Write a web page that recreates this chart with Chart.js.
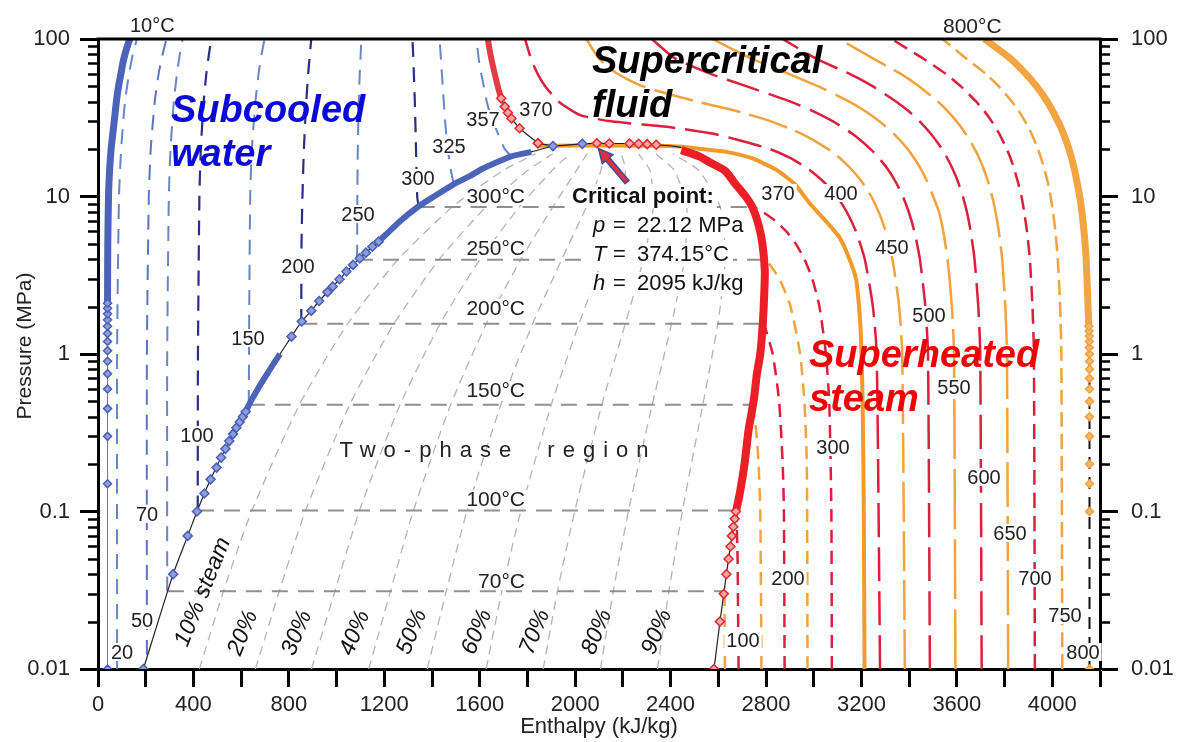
<!DOCTYPE html>
<html>
<head>
<meta charset="utf-8">
<script src="https://cdn.jsdelivr.net/npm/chart.js@4.4.1/dist/chart.umd.min.js"></script>
<style>
  html, body { margin: 0; padding: 0; background: #fff; }
  #wrap { width: 1177px; height: 742px; }
</style>
</head>
<body>
<div id="wrap"><canvas id="phChart" width="1177" height="742"></canvas></div>
<script>
// ---- axes ----
const pressureTicks = [0.01, 0.1, 1, 10, 100];
const pressureLabels = ['0.01', '0.1', '1', '10', '100'];
const enthalpyLabels = [0, 400, 800, 1200, 1600, 2000, 2400, 2800, 3200, 3600, 4000];

// ---- saturation curves [h kJ/kg, p MPa] ----
const satLiqCurve = [[190,0.01],[315,0.04],[376,0.07],[415,0.1],[472,0.16],[534,0.25],[580,0.34],[619,0.43],[640,0.5],[670,0.6],[697,0.7],[721,0.8],[743,0.9],[763,1.0],[811,1.29],[854,1.61],[894,1.88],[927,2.17],[962,2.47],[1012,2.98],[1069,3.68],[1123,4.4],[1176,5.17],[1267,7],[1340,8.58],[1408,10],[1492,12],[1560,13.5],[1611,15],[1672,16.5],[1732,18],[1816,19.2],[1907,20.9]];
const satLiqBandA = [[619,0.43],[640,0.5],[670,0.6],[697,0.7],[721,0.8],[743,0.9],[763,1.0]];
const satLiqBandB = [[1176,5.17],[1267,7],[1340,8.58],[1408,10],[1492,12],[1560,13.5],[1611,15],[1672,16.5],[1732,18],[1816,19.2]];
const satLiqMarkers = [[190,0.01],[315,0.04],[376,0.07],[415,0.1],[446,0.13],[472,0.16],[497,0.19],[516,0.22],[534,0.25],[550,0.28],[566,0.31],[580,0.34],[594,0.37],[607,0.4],[619,0.43],[811,1.29],[854,1.61],[894,1.88],[927,2.17],[962,2.47],[984,2.68],[1012,2.98],[1041,3.34],[1069,3.68],[1097,4.05],[1123,4.4],[1150,4.8],[1176,5.17]];

const satVapMarkers = [[2582,0.01],[2607,0.02],[2623,0.03],[2634,0.04],[2643,0.05],[2651,0.06],[2657,0.07],[2663,0.08],[2669,0.09],[2674,0.1]];
const satVapBand = [[2674,0.1],[2690,0.13],[2710,0.2],[2727,0.33],[2748,0.5],[2762,0.75],[2776,1.0],[2787,1.6],[2793,2.5],[2795,3.4],[2785,5],[2770,6.5],[2744,8.5],[2715,10],[2670,12.1],[2630,14.5],[2570,16.3],[2520,18],[2445,19.7]];

const critFlat = [[1844,21.8],[1907,20.9],[2030,21.6],[2091,21.8],[2143,21.7],[2228,21.7],[2266,21.6],[2302,21.5],[2340,21.3],[2400,21.0],[2445,20.5]];
const critBlueMarkers = [[1907,20.9],[2030,21.6]];
const critRedMarkers = [[1844,21.8],[2091,21.8],[2143,21.7],[2228,21.7],[2266,21.6],[2302,21.5],[2340,21.3]];

// ---- 10 °C isotherm ----
const iso10Markers = [[40,0.01],[40,0.15],[40,0.3],[40,0.45],[40,0.6],[40,0.75],[40,0.9],[40,1.05],[40,1.2],[40,1.35],[40,1.5],[40,1.65],[40,1.8],[40,1.95],[40,2.1]];
const iso10Band = [[40,2.1],[41,5],[44,10],[49,15],[55,20],[62,25],[68,30],[77,40],[86,50],[96,60],[104,70],[113,80],[123,90],[133,100]];

// ---- compressed liquid isotherms ----
const iso20 = [[80,0.01],[80,1],[88,10],[97,20],[113,40],[130,60],[146,80],[163,100]];
const iso50 = [[205,0.0123],[205,1],[213,10],[221,20],[238,40],[254,60],[271,80],[287,100]];
const iso70 = [[290,0.0312],[290,1],[297,10],[304,20],[318,40],[331,60],[343,80],[355,100]];
const iso100 = [[418,0.1014],[419,1],[425,10],[431,20],[443,40],[454,60],[465,80],[475,100]];
const iso150 = [[632,0.476],[634,2],[638,10],[645,20],[660,40],[673,60],[686,80],[698,100]];
const iso200 = [[852,1.554],[853,5],[857,10],[863,20],[873,40],[881,60],[888,80],[894,100]];
const iso250 = [[1086,3.97],[1087,10],[1089,20],[1093,40],[1097,60],[1101,80],[1104,100]];
const iso300 = [[1344,8.58],[1338,10],[1333,20],[1328,40],[1324,60],[1321,80],[1318,100]];
const iso325 = [[1491,12.05],[1478,15],[1466,20],[1455,30],[1447,45],[1440,65],[1432,100]];
const iso357 = [[1732,18.0],[1705,20],[1670,26.5],[1645,33],[1628,41],[1612,55],[1600,67],[1586,100]];
const iso370LiqBand = [[1634,100],[1645,80],[1656,66.7],[1676,49.8],[1690,42]];
const iso370LiqMarkers = [[1690,42],[1705,37.2],[1718,34],[1733,31.3],[1767,27.1],[1844,21.8]];

// ---- vapour / supercritical isotherms ----
const iso70v = [[2628,0.01],[2626,0.0312]];
const iso100v = [[2685,0.01],[2681,0.05],[2676,0.1014]];
const iso150v = [[2781,0.01],[2776,0.1],[2769,0.2],[2761,0.3],[2752,0.4],[2746,0.476]];
const iso200v = [[2878,0.01],[2875,0.1],[2870,0.2],[2855,0.5],[2828,1],[2792,1.554]];
const iso250v = [[2974,0.01],[2971,0.2],[2961,0.5],[2943,1],[2903,2],[2856,3],[2801,3.97]];
const iso300v = [[3076,0.01],[3074,0.1],[3065,0.5],[3051,1],[3024,2],[2994,3],[2961,4],[2925,5],[2885,6],[2839,7],[2786,8],[2749,8.58]];
const iso370v = [[1844,21.03],[2333,21.03],[2450,20.7],[2530,20],[2634,19.2],[2740,17.5],[2843,14.8],[2920,12],[2983,9.06],[3050,7],[3108,5.5],[3150,4],[3178,2.97],[3190,2],[3198,1.29],[3205,0.5],[3210,0.1],[3213,0.01]];
const iso400 = [[3278,0.01],[3264,1],[3248,2],[3214,4],[3177,6],[3138,8],[3097,10],[3039,12.5],[2976,15],[2903,17.5],[2818,20],[2700,22.5],[2580,25],[2400,27.5],[2151,30],[2030,32.5],[1988,35],[1931,40],[1875,50],[1843,60],[1815,75],[1790,100]];
const iso450 = [[3382,0.01],[3371,1],[3358,2],[3330,4],[3302,6],[3272,8],[3241,10],[3200,12.5],[3156,15],[3110,17.5],[3060,20],[2950,25],[2821,30],[2672,35],[2513,40],[2284,50],[2179,60],[2100,75],[2047,100]];
const iso500 = [[3487,0.01],[3479,1],[3468,2],[3445,4],[3422,6],[3398,8],[3374,10],[3342,12.5],[3309,15],[3274,17.5],[3238,20],[3162,25],[3081,30],[2994,35],[2903,40],[2720,50],[2568,60],[2420,75],[2321,100]];
const iso550 = [[3594,0.01],[3588,1],[3579,2],[3561,4],[3543,6],[3525,8],[3501,10],[3475,12.5],[3449,15],[3421,17.5],[3394,20],[3336,25],[3275,30],[3213,35],[3149,40],[3020,50],[2896,60],[2740,75],[2575,100]];
const iso600 = [[3704,0.01],[3698,1],[3690,2],[3674,4],[3658,6],[3642,8],[3625,10],[3604,12.5],[3582,15],[3560,17.5],[3538,20],[3491,25],[3444,30],[3396,35],[3346,40],[3248,50],[3151,60],[3010,75],[2870,100]];
const iso650 = [[3815,0.01],[3810,1],[3803,2],[3790,4],[3776,6],[3762,8],[3748,10],[3730,12.5],[3712,15],[3694,17.5],[3675,20],[3637,25],[3599,30],[3560,35],[3521,40],[3442,50],[3365,60],[3250,75],[3108,100]];
const iso700 = [[3927,0.01],[3923,1],[3917,2],[3906,4],[3894,6],[3882,8],[3871,10],[3855,12.5],[3840,15],[3825,17.5],[3809,20],[3778,25],[3746,30],[3714,35],[3681,40],[3617,50],[3554,60],[3460,75],[3326,100]];
const iso750 = [[4042,0.01],[4038,1],[4033,2],[4023,4],[4013,6],[4003,8],[3993,10],[3980,12.5],[3966,15],[3953,17.5],[3940,20],[3913,25],[3886,30],[3859,35],[3831,40],[3776,50],[3722,60],[3640,75],[3540,100]];
const iso800Dash = [[4156,0.01],[4156,1.5]];
const iso800Markers = [[4156,0.01],[4156,0.1],[4156,0.15],[4156,0.2],[4156,0.3],[4156,0.4],[4156,0.5],[4156,0.6],[4156,0.7],[4156,0.8],[4156,0.9],[4156,1.0],[4155,1.1],[4155,1.2],[4155,1.3],[4154,1.4],[4153,1.5]];
const iso800Band = [[4153,1.5],[4150,2],[4142,4],[4133,6],[4124,8],[4115,10],[4092,15],[4070,20],[4047,25],[4024,30],[3979,40],[3934,50],[3889,60],[3825,75],[3716,100]];

// ---- two-phase region ----
const twoPhaseP = [8.58, 3.97, 1.554, 0.476, 0.1014, 0.0312];
const twoPhaseHf = [1344, 1086, 852, 632, 419, 293];
const twoPhaseHg = [2749, 2801, 2792, 2746, 2676, 2626];
const qualityP = [0.01, 0.0312, 0.1014, 0.476, 1.554, 3.97, 8.58, 14.6, 18.66];
const qualityH = [
  [425, 526, 645, 844, 1046, 1257, 1485, 1697, 1834],
  [660, 760, 870, 1055, 1240, 1429, 1626, 1800, 1906],
  [895, 993, 1096, 1266, 1434, 1600, 1766, 1903, 1978],
  [1135, 1226, 1322, 1478, 1628, 1772, 1906, 2005, 2050],
  [1380, 1460, 1547, 1689, 1822, 1943, 2047, 2108, 2122],
  [1627, 1693, 1773, 1900, 2016, 2115, 2187, 2211, 2194],
  [1866, 1926, 1999, 2112, 2210, 2286, 2328, 2314, 2266],
  [2106, 2160, 2224, 2323, 2404, 2458, 2468, 2416, 2338],
  [2345, 2393, 2450, 2535, 2598, 2629, 2608, 2519, 2410]
];

// ---- colours ----
const NAVY = '#2b2e85', LBLUE = '#6886c6', BLUE = '#4b63b8';
const RED = '#dc1f3c', ORANGE = '#f2a23f', SATRED = '#ec1e26';

const pts = arr => arr.map(([x, y]) => ({ x, y }));
const datasets = [];
function addLine(data, color, width, dash, tension) {
  datasets.push({ data: pts(data), showLine: true, borderColor: color, borderWidth: width,
    borderDash: dash || [], pointRadius: 0, tension: tension || 0 });
}
function addMarkers(data, edge, fillc, r) {
  datasets.push({ data: pts(data), showLine: false, pointStyle: 'rectRot', pointRadius: r || 4.5,
    pointBorderWidth: 1.5, pointBorderColor: edge, pointBackgroundColor: fillc });
}

// two-phase grid
qualityH.forEach(row => addLine(row.map((h, i) => [h, qualityP[i]]), '#b4b4b4', 1.3, [9, 6], 0.2));
twoPhaseP.forEach((p, i) => addLine([[twoPhaseHf[i], p], [twoPhaseHg[i], p]], '#8f8f8f', 2, [16, 10]));

// liquid isotherms
const liqDash = [15, 10];
addLine(iso20, LBLUE, 2, liqDash, 0.2);
addLine(iso50, '#5a76bf', 2, liqDash, 0.2);
addLine(iso70, LBLUE, 2, liqDash, 0.2);
addLine(iso100, NAVY, 2.2, liqDash, 0.2);
addLine(iso150, LBLUE, 2, liqDash, 0.2);
addLine(iso200, NAVY, 2.2, liqDash, 0.2);
addLine(iso250, LBLUE, 2, liqDash, 0.2);
addLine(iso300, NAVY, 2.2, liqDash, 0.2);
addLine(iso325, LBLUE, 2, liqDash, 0.2);
addLine(iso357, LBLUE, 2, liqDash, 0.2);

// vapour isotherms
const shortDash = [13, 8];
addLine(iso70v, ORANGE, 2.5, shortDash);
addLine(iso100v, RED, 2.5, shortDash);
addLine(iso150v, ORANGE, 2.5, shortDash, 0.2);
addLine(iso200v, RED, 2.5, shortDash, 0.2);
addLine(iso250v, ORANGE, 2.5, shortDash, 0.2);
addLine(iso300v, RED, 2.5, shortDash, 0.2);
addLine(iso400, RED, 2.5, [34, 10], 0.2);
addLine(iso450, ORANGE, 2.5, [40, 9], 0.2);
addLine(iso500, RED, 2.5, [34, 10], 0.2);
addLine(iso550, ORANGE, 2.5, [60, 10], 0.2);
addLine(iso600, RED, 2.5, [34, 10], 0.2);
addLine(iso650, ORANGE, 2.5, [45, 9], 0.2);
addLine(iso700, RED, 2.5, [15, 8], 0.2);
addLine(iso750, ORANGE, 2.5, [15, 7], 0.2);
addLine(iso370v, '#f39a2e', 4, [], 0.2);
addLine(iso800Dash, '#111', 2, [12, 8]);
addLine(iso800Band, '#f3a443', 7, [], 0.2);
addMarkers(iso800Markers, '#f0a040', '#f6b96c', 4);

// 10 °C isotherm
addLine([[40, 0.01], [40, 2.1]], '#777', 1);
addLine(iso10Band, BLUE, 7, [], 0.2);
addMarkers(iso10Markers, '#4a5fb4', '#8c9edb', 4);

// saturated liquid / vapour
addLine(satLiqCurve, '#222', 1.2, [], 0.2);
addLine(satLiqBandA, BLUE, 6, [], 0.2);
addLine(satLiqBandB, BLUE, 6, [], 0.2);
addMarkers(satLiqMarkers, '#4a5fb4', '#8c9edb');
addLine(satVapMarkers, '#222', 1.2);
addLine(satVapBand, SATRED, 8, [], 0.2);
addMarkers(satVapMarkers, '#e3262e', '#f7a5a5');

// near critical
addLine(iso370LiqBand.concat(iso370LiqMarkers.slice(1)), '#222', 1.2, [], 0.2);
addLine(iso370LiqBand, '#e23c44', 6, [], 0.2);
addMarkers(iso370LiqMarkers, '#e3262e', '#f7a5a5');
addLine(critFlat, '#222', 1.2);
addMarkers(critBlueMarkers, '#4a5fb4', '#8c9edb');
addMarkers(critRedMarkers, '#e3262e', '#f7a5a5');

datasets.forEach((d, i) => { d.order = datasets.length - i; });

// ---- annotations (pixel positions) ----
const lineLabels = [
  ['20', 122, 652], ['50', 142, 620], ['70', 147, 514], ['100', 197, 435], ['150', 248, 338],
  ['200', 298, 266], ['250', 358, 214], ['300', 418, 178], ['325', 449, 146], ['357', 483, 119],
  ['370', 536, 109], ['100', 743, 640], ['200', 788, 578], ['300', 833, 447], ['370', 778, 193],
  ['400', 841, 193], ['450', 892, 247], ['500', 929, 315], ['550', 954, 387], ['600', 984, 477],
  ['650', 1010, 533], ['700', 1035, 578], ['750', 1065, 615], ['800', 1083, 652]
];
const tempLabels = [['300°C', 203], ['250°C', 255], ['200°C', 315], ['150°C', 397], ['100°C', 506], ['70°C', 588]];
const qualityLabels = [['10% steam', 203, 592], ['20%', 243, 633], ['30%', 297, 633], ['40%', 355, 633],
  ['50%', 412, 632], ['60%', 477, 632], ['70%', 535, 632], ['80%', 597, 632], ['90%', 657, 632]];

const FONT = '"Liberation Sans", Arial, sans-serif';

const annot = {
  id: 'annot',
  afterDraw(chart) {
    const { ctx, chartArea: a } = chart;
    const ys = chart.scales.y;
    ctx.save();
    // top frame
    ctx.strokeStyle = '#000';
    ctx.lineWidth = 3;
    ctx.beginPath();
    ctx.moveTo(a.left - 1.5, a.top);
    ctx.lineTo(a.right + 1.5, a.top);
    ctx.stroke();
    // minor log ticks
    ctx.lineWidth = 2.5;
    for (const d of [0.01, 0.1, 1, 10]) {
      for (let k = 2; k <= 9; k++) {
        const py = Math.round(ys.getPixelForValue(d * k)) + 0.5;
        ctx.beginPath();
        ctx.moveTo(a.left, py); ctx.lineTo(a.left - 10, py);
        ctx.moveTo(a.right, py); ctx.lineTo(a.right + 10, py);
        ctx.stroke();
      }
    }

    // y axis title
    ctx.save();
    ctx.translate(25, 346);
    ctx.rotate(-Math.PI / 2);
    ctx.font = '21px ' + FONT;
    ctx.fillStyle = '#222';
    ctx.textAlign = 'center';
    ctx.textBaseline = 'middle';
    ctx.fillText('Pressure (MPa)', 0, 0);
    ctx.restore();

    // two-phase temperature labels
    ctx.font = '21px ' + FONT;
    ctx.textAlign = 'right';
    ctx.textBaseline = 'alphabetic';
    tempLabels.forEach(([t, by]) => {
      const w = ctx.measureText(t).width;
      ctx.fillStyle = '#fff';
      ctx.fillRect(525 - w - 2, by - 16, w + 4, 18);
      ctx.fillStyle = '#222';
      ctx.fillText(t, 525, by);
    });

    // isotherm number labels
    ctx.font = '20px ' + FONT;
    ctx.textAlign = 'center';
    ctx.textBaseline = 'middle';
    lineLabels.forEach(([t, x, y]) => {
      const w = ctx.measureText(t).width;
      ctx.fillStyle = '#fff';
      ctx.fillRect(x - w / 2 - 2, y - 9, w + 4, 18);
      ctx.fillStyle = '#222';
      ctx.fillText(t, x, y + 1);
    });

    // quality labels
    ctx.font = 'italic 23px ' + FONT;
    ctx.fillStyle = '#111';
    qualityLabels.forEach(([t, x, y]) => {
      ctx.save();
      ctx.translate(x, y);
      ctx.rotate(-68 * Math.PI / 180);
      ctx.fillText(t, 0, 0);
      ctx.restore();
    });

    // two-phase region
    ctx.font = '22px ' + FONT;
    ctx.fillStyle = '#222';
    ctx.textBaseline = 'alphabetic';
    if ('letterSpacing' in ctx) ctx.letterSpacing = '8px';
    ctx.fillText('Two-phase  region', 498, 457);
    if ('letterSpacing' in ctx) ctx.letterSpacing = '0px';

    // critical point block
    ctx.textAlign = 'left';
    ctx.font = 'bold 22px ' + FONT;
    let w = ctx.measureText('Critical point:').width;
    ctx.fillStyle = '#fff';
    ctx.fillRect(569, 184, w + 6, 24);
    ctx.fillStyle = '#111';
    ctx.fillText('Critical point:', 572, 203);
    const crit = [['p', '22.12 MPa', 232], ['T', '374.15°C', 261], ['h', '2095 kJ/kg', 290]];
    crit.forEach(([v, val, by]) => {
      ctx.font = '22px ' + FONT;
      const vw = ctx.measureText(val).width;
      ctx.fillStyle = '#fff';
      ctx.fillRect(590, by - 18, 637 - 590 + vw + 4, 24);
      ctx.fillStyle = '#111';
      ctx.font = 'italic 22px ' + FONT;
      ctx.fillText(v, 593, by);
      ctx.font = '22px ' + FONT;
      ctx.fillText('=', 613, by);
      ctx.fillText(val, 637, by);
    });

    // arrow to critical point
    const tail = [627, 182], tip = [598.5, 148.5];
    const dx = tip[0] - tail[0], dy = tip[1] - tail[1];
    const L = Math.hypot(dx, dy), ux = dx / L, uy = dy / L, nx = -uy, ny = ux;
    const bx = tip[0] - ux * 14, by2 = tip[1] - uy * 14;
    ctx.beginPath();
    ctx.moveTo(tail[0] + nx * 2.5, tail[1] + ny * 2.5);
    ctx.lineTo(bx + nx * 2.5, by2 + ny * 2.5);
    ctx.lineTo(bx + nx * 7, by2 + ny * 7);
    ctx.lineTo(tip[0], tip[1]);
    ctx.lineTo(bx - nx * 7, by2 - ny * 7);
    ctx.lineTo(bx - nx * 2.5, by2 - ny * 2.5);
    ctx.lineTo(tail[0] - nx * 2.5, tail[1] - ny * 2.5);
    ctx.closePath();
    ctx.fillStyle = '#e0303a';
    ctx.fill();
    ctx.strokeStyle = '#3c4aa6';
    ctx.lineWidth = 1.5;
    ctx.stroke();

    // region names
    ctx.font = 'italic bold 38px ' + FONT;
    ctx.fillStyle = '#0a0ad8';
    ctx.fillText('Subcooled', 171, 122);
    ctx.fillText('water', 171, 166);
    ctx.fillStyle = '#000';
    ctx.fillText('Supercritical', 592, 73);
    ctx.fillText('fluid', 592, 117);
    ctx.fillStyle = '#f00000';
    ctx.fillText('Superheated', 809, 367);
    ctx.fillText('steam', 809, 411);

    // boundary temperatures
    ctx.fillStyle = '#222';
    ctx.font = '20px ' + FONT;
    ctx.fillText('10°C', 130, 32);
    ctx.font = '21px ' + FONT;
    ctx.fillText('800°C', 943, 33);
    ctx.restore();
  }
};

Chart.defaults.font.family = FONT;

const tickGrid = { display: true, drawOnChartArea: false, drawTicks: true, tickLength: 18, tickWidth: 3, tickColor: '#000' };
const axisBorder = { display: true, width: 3, color: '#000' };

new Chart(document.getElementById('phChart'), {
  type: 'scatter',
  data: { datasets },
  options: {
    responsive: false,
    animation: false,
    devicePixelRatio: 1,
    layout: { padding: { top: 39, left: 0, right: 0, bottom: 0 } },
    plugins: { legend: { display: false }, tooltip: { enabled: false } },
    scales: {
      x: {
        type: 'linear', position: 'bottom', min: 0, max: 4200,
        afterFit: s => { s.height = 73; },
        ticks: { stepSize: 200, autoSkip: false, maxRotation: 0, padding: 5, color: '#222', font: { size: 22 },
          callback: v => enthalpyLabels.includes(v) ? String(v) : '' },
        grid: tickGrid,
        border: axisBorder,
        title: { display: true, text: 'Enthalpy (kJ/kg)', color: '#222', font: { size: 22 }, padding: { top: 0, bottom: 2 } }
      },
      y: {
        type: 'logarithmic', position: 'left', min: 0.01, max: 100,
        afterFit: s => { s.width = 98; },
        afterBuildTicks: s => { s.ticks = pressureTicks.map(v => ({ value: v })); },
        ticks: { padding: 10, color: '#222', font: { size: 22 },
          callback: v => { const i = pressureTicks.indexOf(v); return i >= 0 ? pressureLabels[i] : ''; } },
        grid: tickGrid,
        border: axisBorder
      },
      y2: {
        type: 'logarithmic', position: 'right', min: 0.01, max: 100,
        afterFit: s => { s.width = 77; },
        afterBuildTicks: s => { s.ticks = pressureTicks.map(v => ({ value: v })); },
        ticks: { padding: 13, color: '#222', font: { size: 22 },
          callback: v => { const i = pressureTicks.indexOf(v); return i >= 0 ? pressureLabels[i] : ''; } },
        grid: tickGrid,
        border: axisBorder
      }
    }
  },
  plugins: [annot]
});
</script>
</body>
</html>
